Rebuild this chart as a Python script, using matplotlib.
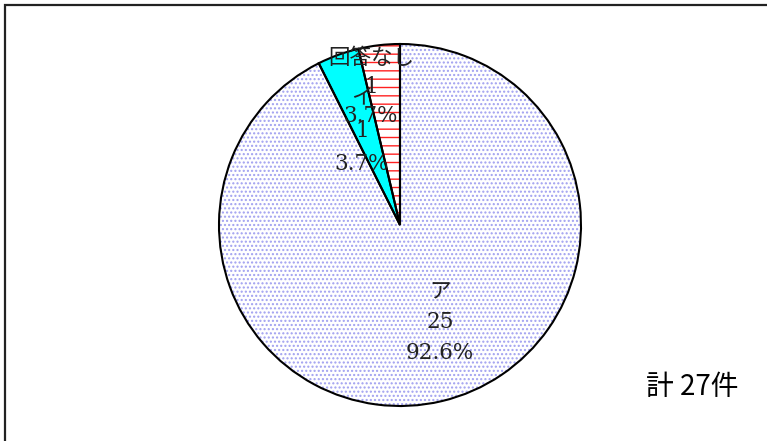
import matplotlib
matplotlib.use("Agg")
import matplotlib.pyplot as plt
from matplotlib.patches import Rectangle
import numpy as np

categories = ["ア", "イ", "回答なし"]
values = [25, 1, 1]
percents = ["92.6%", "3.7%", "3.7%"]
total_label = "計 27件"

face_colors = ["white", "#00ffff", "white"]
hatches = ["....", None, "--"]
hatch_colors = ["#a0a0f0", "#00ffff", "#ff2020"]

W, H = 767, 441
fig = plt.figure(figsize=(W / 100, H / 100), dpi=100)
fig.patch.set_facecolor("white")

# outer frame (right/bottom edges off-canvas)
fig.patches.append(Rectangle((5 / W, -0.1), 1.2, 1 - 5 / H + 0.1, transform=fig.transFigure,
                             fill=False, edgecolor="#222222", linewidth=1.6))

cx, cy, r = 400, 225, 181
ax = fig.add_axes([(cx - r) / W, (H - cy - r) / H, 2 * r / W, 2 * r / H])

# hatched fills (edgecolor controls hatch colour)
wedges, _ = ax.pie(values, startangle=90, counterclock=False, radius=1.0)
for w, fc, h, hc in zip(wedges, face_colors, hatches, hatch_colors):
    w.set_facecolor(fc)
    w.set_edgecolor(hc)
    w.set_linewidth(0)
    if h:
        w.set_hatch(h)
# black outlines
ax.pie(values, startangle=90, counterclock=False, radius=1.0,
       wedgeprops=dict(facecolor="none", edgecolor="black", linewidth=1.5))
ax.set_xlim(-1, 1)
ax.set_ylim(-1, 1)
ax.set_aspect("equal")
ax.axis("off")

serif = ["DejaVu Serif", "Noto Sans CJK JP"]
fs = 15.5
# label anchor positions in pixels (layout only): centre line of each 3-line label
label_pos = [(440, 322, 31), (362, 131, 33), (371, 87, 29)]
for cat, v, p, (lx, ly, gap) in zip(categories, values, percents, label_pos):
    x = (lx - cx) / r
    for k, t in enumerate([cat, str(v), p]):
        y = (cy - (ly + (k - 1) * gap)) / r
        ax.text(x, y, t, ha="center", va="center", fontsize=fs, family=serif,
                color="#222222", clip_on=False)

fig.text(692 / W, 1 - 387 / H, total_label, ha="center", va="center",
         fontsize=20, family=["Noto Sans CJK JP", "DejaVu Sans"], color="black")

fig.savefig("out.png", dpi=100, facecolor="white")
